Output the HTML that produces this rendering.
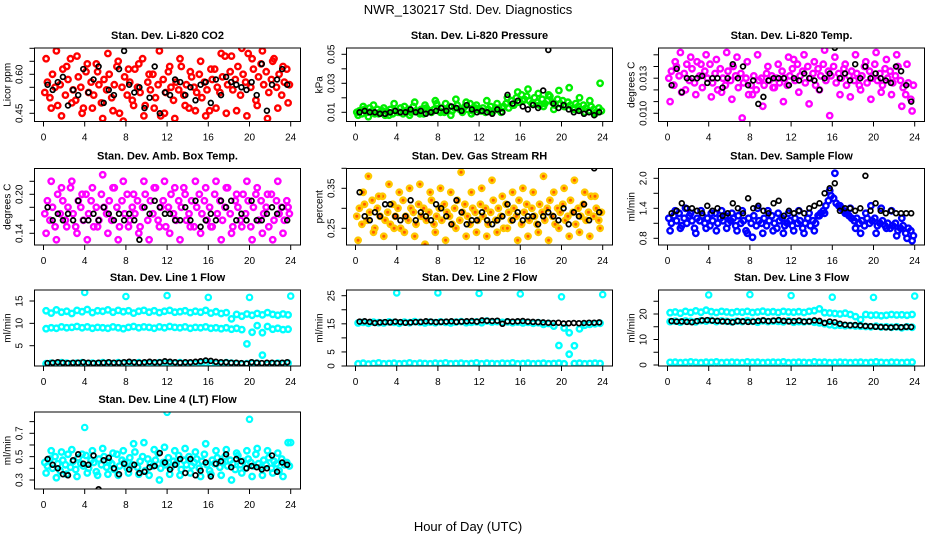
<!DOCTYPE html>
<html><head><meta charset="utf-8"><style>
html,body{margin:0;padding:0;background:#fff;}
svg{display:block;font-family:"Liberation Sans",Arial,sans-serif;}
</style></head><body>
<svg id="chart" width="936" height="540" viewBox="0 0 936 540" xmlns="http://www.w3.org/2000/svg">
<text x="468" y="14" text-anchor="middle" font-size="13">NWR_130217  Std. Dev. Diagnostics</text>
<text x="468" y="531" text-anchor="middle" font-size="13">Hour of Day (UTC)</text>
</svg>
<script>
// ---- data ----
const co2Main=[0.53,0.57,0.51,0.60,0.55,0.48,0.56,0.62,0.52,0.58,0.66,0.54,0.50,0.59,0.55,0.47,0.61,0.53,0.57,0.52,0.64,0.56,0.49,0.58,0.54,0.60,0.51,0.56,0.63,0.45,0.55,0.59,0.52,0.57,0.50,0.62,0.55,0.53,0.66,0.48,0.57,0.54,0.60,0.51,0.56,0.44,0.58,0.53,0.61,0.55,0.50,0.57,0.54,0.63,0.52,0.56,0.47,0.59,0.55,0.53,0.60,0.51,0.57,0.54,0.46,0.58,0.62,0.55,0.53,0.59,0.67,0.56,0.61,0.54,0.58,0.63,0.52,0.60,0.57,0.68,0.55,0.62,0.50,0.59,0.64,0.56,0.61,0.53,0.58,0.66,0.55,0.60,0.52,0.57,0.62,0.56];
const co2Spread=[0.66,0.47,0.69,0.44,0.63,0.49,0.67,0.45,0.64,0.47,0.61,0.43,0.68,0.46,0.65,0.42,0.62,0.48,0.64,0.44,0.60,0.47,0.69,0.45,0.63,0.43,0.66,0.48,0.61,0.46,0.65,0.44,0.62,0.47,0.68,0.45,0.67,0.46,0.70,0.44,0.66,0.48,0.69,0.43,0.65,0.47,0.63,0.49];
const co2Black=[0.56,0.54,0.57,0.59,0.48,0.54,0.52,0.62,0.53,0.58,0.63,0.49,0.54,0.52,0.62,0.69,0.56,0.53,0.55,0.47,0.51,0.63,0.45,0.53,0.52,0.58,0.57,0.52,0.55,0.50,0.56,0.57,0.49,0.58,0.52,0.59,0.57,0.56,0.55,0.54,0.57,0.52,0.64,0.46,0.56,0.58,0.62,0.56];

const presMain=[0.010,0.011,0.009,0.012,0.010,0.013,0.011,0.009,0.012,0.010,0.011,0.008,0.010,0.012,0.009,0.011,0.010,0.013,0.009,0.011,0.012,0.010,0.014,0.011,0.010,0.012,0.009,0.013,0.011,0.010,0.012,0.016,0.011,0.013,0.010,0.012,0.014,0.011,0.013,0.015,0.012,0.010,0.014,0.012,0.016,0.011,0.013,0.012,0.011,0.013,0.010,0.012,0.014,0.011,0.013,0.012,0.010,0.014,0.016,0.013,0.018,0.015,0.020,0.017,0.022,0.019,0.021,0.018,0.016,0.020,0.017,0.015,0.019,0.016,0.018,0.021,0.017,0.015,0.019,0.016,0.018,0.014,0.017,0.015,0.013,0.016,0.014,0.012,0.015,0.013,0.011,0.014,0.012,0.010,0.013,0.011];
const presSpread=[0.008,0.014,0.007,0.015,0.009,0.013,0.008,0.016,0.010,0.014,0.008,0.017,0.009,0.015,0.011,0.018,0.010,0.016,0.008,0.019,0.012,0.017,0.009,0.015,0.011,0.018,0.010,0.016,0.013,0.020,0.015,0.024,0.018,0.026,0.016,0.023,0.014,0.022,0.012,0.025,0.014,0.027,0.012,0.020,0.010,0.018,0.009,0.030];
const presBlack=[0.010,0.011,0.010,0.010,0.009,0.009,0.010,0.011,0.010,0.010,0.012,0.010,0.011,0.009,0.010,0.011,0.013,0.011,0.014,0.013,0.011,0.015,0.012,0.010,0.011,0.010,0.009,0.012,0.010,0.022,0.016,0.018,0.014,0.012,0.015,0.013,0.025,0.053,0.016,0.013,0.015,0.012,0.010,0.011,0.009,0.010,0.008,0.010];

const ltMain=[0.0115,0.0118,0.0112,0.0120,0.0116,0.0109,0.0117,0.0121,0.0114,0.0119,0.0113,0.0122,0.0116,0.0111,0.0118,0.0115,0.0121,0.0113,0.0117,0.0110,0.0119,0.0115,0.0112,0.0118,0.0114,0.0120,0.0116,0.0111,0.0117,0.0113,0.0115,0.0108,0.0112,0.0116,0.0110,0.0114,0.0115,0.0112,0.0117,0.0114,0.0116,0.0111,0.0115,0.0113,0.0118,0.0115,0.0112,0.0116,0.0119,0.0114,0.0121,0.0116,0.0118,0.0113,0.0120,0.0115,0.0117,0.0112,0.0119,0.0116,0.0121,0.0114,0.0118,0.0116,0.0120,0.0113,0.0117,0.0115,0.0119,0.0112,0.0116,0.0118,0.0114,0.0117,0.0112,0.0116,0.0120,0.0113,0.0118,0.0115,0.0121,0.0114,0.0117,0.0112,0.0119,0.0115,0.0118,0.0113,0.0116,0.0120,0.0114,0.0111,0.0108,0.0113,0.0106,0.0112];
const ltSpread=[0.0105,0.0122,0.0126,0.0110,0.0124,0.0108,0.0121,0.0125,0.0107,0.0123,0.0109,0.0126,0.0106,0.0124,0.0098,0.0122,0.0108,0.0125,0.0103,0.0120,0.0111,0.0121,0.0105,0.0124,0.0123,0.0109,0.0125,0.0104,0.0122,0.0110,0.0127,0.0099,0.0124,0.0108,0.0121,0.0107,0.0125,0.0110,0.0122,0.0106,0.0126,0.0109,0.0123,0.0108,0.0125,0.0103,0.0121,0.0101];
const ltBlack=[0.0112,0.0119,0.0109,0.0115,0.0115,0.0115,0.0116,0.0113,0.0115,0.0115,0.0111,0.0115,0.0121,0.0115,0.0120,0.0112,0.0114,0.0104,0.0107,0.0114,0.0115,0.0115,0.0115,0.0112,0.0115,0.0114,0.0117,0.0115,0.0114,0.0110,0.0115,0.0117,0.0128,0.0115,0.0117,0.0114,0.0121,0.0115,0.0120,0.0115,0.0117,0.0115,0.0114,0.0113,0.0120,0.0118,0.0112,0.0105];

const abMain=[0.17,0.19,0.16,0.18,0.15,0.20,0.17,0.19,0.16,0.18,0.21,0.17,0.15,0.19,0.18,0.16,0.20,0.17,0.19,0.15,0.18,0.16,0.20,0.18,0.17,0.19,0.16,0.21,0.18,0.15,0.19,0.17,0.20,0.16,0.18,0.17,0.19,0.15,0.18,0.20,0.16,0.19,0.17,0.21,0.16,0.18,0.19,0.15,0.18,0.20,0.17,0.16,0.19,0.18,0.21,0.16,0.17,0.19,0.15,0.18,0.20,0.17,0.19,0.16,0.18,0.15,0.20,0.17,0.19,0.16,0.18,0.21,0.17,0.15,0.19,0.18,0.16,0.20,0.17,0.19,0.15,0.18,0.20,0.16,0.19,0.17,0.18,0.15,0.20,0.16,0.19,0.17,0.18,0.16,0.19,0.17];
const abSpread=[0.14,0.22,0.13,0.21,0.15,0.22,0.14,0.20,0.13,0.21,0.15,0.23,0.14,0.21,0.13,0.22,0.15,0.20,0.14,0.22,0.13,0.21,0.15,0.22,0.14,0.21,0.13,0.20,0.15,0.22,0.14,0.21,0.15,0.22,0.13,0.21,0.14,0.20,0.15,0.22,0.13,0.21,0.14,0.20,0.13,0.22,0.14,0.18];
const abBlack=[0.18,0.16,0.17,0.16,0.17,0.16,0.19,0.16,0.16,0.17,0.16,0.18,0.17,0.16,0.17,0.16,0.17,0.16,0.13,0.18,0.17,0.19,0.18,0.17,0.17,0.16,0.16,0.18,0.16,0.19,0.15,0.16,0.17,0.16,0.19,0.18,0.19,0.16,0.17,0.16,0.19,0.16,0.16,0.17,0.18,0.17,0.18,0.16];

const rhMain=[0.28,0.30,0.26,0.31,0.27,0.29,0.32,0.25,0.30,0.28,0.33,0.27,0.29,0.26,0.31,0.28,0.30,0.25,0.32,0.28,0.27,0.30,0.29,0.26,0.31,0.28,0.30,0.27,0.29,0.32,0.26,0.28,0.30,0.27,0.31,0.29,0.28,0.26,0.30,0.32,0.27,0.29,0.31,0.28,0.26,0.30,0.29,0.27,0.31,0.28,0.30,0.26,0.29,0.32,0.27,0.30,0.28,0.25,0.31,0.29,0.27,0.30,0.28,0.32,0.26,0.29,0.31,0.27,0.30,0.28,0.26,0.31,0.29,0.27,0.30,0.32,0.28,0.26,0.30,0.29,0.31,0.27,0.28,0.32,0.29,0.26,0.30,0.28,0.31,0.27,0.29,0.33,0.28,0.30,0.27,0.29];
const rhSpread=[0.22,0.34,0.38,0.24,0.33,0.23,0.36,0.25,0.34,0.24,0.35,0.23,0.36,0.21,0.34,0.24,0.35,0.22,0.34,0.25,0.39,0.23,0.34,0.24,0.35,0.23,0.37,0.24,0.33,0.25,0.34,0.22,0.35,0.23,0.34,0.24,0.38,0.22,0.34,0.25,0.35,0.23,0.37,0.24,0.34,0.23,0.33,0.25];
const rhBlack=[0.34,0.28,0.27,0.29,0.28,0.31,0.31,0.28,0.27,0.28,0.32,0.27,0.29,0.28,0.27,0.31,0.30,0.28,0.26,0.32,0.29,0.26,0.27,0.27,0.29,0.27,0.26,0.27,0.28,0.31,0.27,0.29,0.27,0.28,0.28,0.26,0.28,0.29,0.28,0.27,0.30,0.26,0.29,0.28,0.31,0.27,0.40,0.29];

const sfMain=[1.2,1.1,1.25,1.15,1.3,1.05,1.2,1.1,1.25,1.15,1.0,1.2,1.15,1.25,1.1,1.2,1.05,1.15,1.3,1.1,1.2,1.15,1.25,1.1,1.15,1.2,1.05,1.25,1.1,1.15,0.95,1.2,1.1,1.25,1.05,1.15,1.1,1.2,1.05,1.15,1.25,1.1,1.0,1.15,1.2,1.05,1.1,1.15,1.05,1.2,1.1,1.15,1.0,1.1,1.2,1.05,1.15,1.1,1.25,1.3,1.35,1.45,1.55,1.65,1.6,1.5,1.45,1.4,1.35,1.3,1.25,1.2,1.15,1.2,1.1,1.15,1.05,1.2,1.1,1.15,1.2,1.05,1.1,1.15,1.05,1.1,1.0,1.05,1.1,0.95,1.0,1.05,0.9,1.0,0.95,0.85];
const sfSpread=[0.95,1.35,1.0,1.4,1.3,0.9,1.35,1.0,1.3,0.95,1.35,1.0,1.3,0.95,1.35,0.9,0.82,1.4,0.9,1.35,0.95,1.3,0.9,1.3,0.95,1.35,0.9,1.3,0.95,1.25,1.3,1.75,2.1,1.45,1.3,1.4,1.0,0.9,1.3,1.45,0.9,1.4,1.0,1.35,0.85,1.2,0.8,0.75];
const sfBlack=[1.3,1.35,1.5,1.4,1.4,1.35,1.3,1.45,1.35,1.4,1.25,1.3,1.5,1.4,1.3,1.6,1.4,1.45,1.35,1.3,1.5,1.55,1.25,1.35,1.3,1.35,1.3,1.4,1.45,1.5,1.7,1.8,1.9,1.35,1.4,1.4,1.35,1.4,2.05,1.35,1.5,1.35,1.3,1.35,1.3,1.3,1.3,1.3];

const l1BandHigh=[12.8,12.3,13.0,12.5,12.7,12.2,12.9,12.6,13.1,12.4,12.8,12.7,13.0,12.5,12.9,12.6,12.8,12.3,12.7,12.9,12.5,12.8,12.4,12.7,12.9,12.5,12.6,12.8,12.4,12.7,12.5,12.9,12.3,12.6,12.2,12.4,11.0,12.0,11.6,12.1,11.8,12.2,11.9,12.4,12.0,11.8,12.1,11.9];
const l1BandMid=[8.8,9.0,8.9,9.2,9.0,9.1,9.3,9.0,9.2,8.9,9.1,9.0,8.9,9.2,9.0,8.8,9.1,9.3,9.0,9.2,9.1,8.9,9.2,9.0,9.3,9.1,9.0,9.2,8.9,9.1,9.0,9.2,8.9,9.0,8.8,9.0,8.7,8.9,8.6,5.4,8.0,9.5,7.9,9.3,8.7,8.9,8.6,8.7];
const l1BandLow=[1.0,1.1,1.0,1.2,1.1,1.0,1.1,1.2,1.0,1.1,1.0,1.2,1.1,1.0,1.2,1.1,1.0,1.1,1.2,1.0,1.1,1.0,1.2,1.1,1.0,1.1,1.2,1.0,1.1,1.0,1.2,1.1,1.0,1.1,1.0,1.2,1.1,1.0,0.9,1.0,1.1,1.1,2.9,0.9,1.0,1.1,1.0,1.1];
const l1OutHours=[4,8,12,16,20,24];
const l1OutVals=[16.9,16.0,16.2,15.8,15.8,16.1];
const l1Black=[1.1,1.2,1.3,1.2,1.1,1.2,1.2,1.3,1.2,1.1,1.2,1.2,1.3,1.2,1.2,1.3,1.4,1.3,1.2,1.3,1.4,1.3,1.3,1.5,1.4,1.3,1.2,1.3,1.3,1.4,1.5,1.7,1.6,1.4,1.3,1.3,1.2,1.2,1.1,1.0,1.3,1.2,1.1,1.2,1.2,1.1,1.2,1.3];

const l2BandHigh=[15.3,15.5,15.2,15.6,15.4,15.3,15.7,15.5,15.2,15.6,15.4,15.8,15.5,15.3,15.6,15.4,15.7,15.5,15.3,15.6,15.8,15.4,15.5,15.7,15.4,16.0,15.6,15.8,15.5,15.7,15.4,15.6,15.3,15.5,15.2,15.4,14.8,15.1,14.2,7.3,13.5,11.8,7.2,13.2,14.5,14.8,15.0,15.2];
const l2BandLow=[0.8,1.0,0.7,0.9,1.1,0.8,0.9,1.0,0.8,0.9,1.1,0.8,1.0,0.9,0.8,1.0,0.9,1.1,0.8,0.9,1.0,0.8,0.9,1.1,0.8,1.0,0.9,0.8,1.0,0.9,1.1,0.8,0.9,1.0,0.8,0.9,1.0,0.8,0.9,1.0,0.8,4.2,0.9,1.0,0.8,0.9,1.0,0.9];
const l2OutHours=[4,8,12,16,20,24];
const l2OutVals=[26.0,26.0,25.8,25.6,24.6,25.4];
const l2Black=[15.8,15.9,15.7,15.3,15.5,15.6,15.5,15.8,15.6,15.4,15.5,15.6,15.7,15.9,15.8,15.6,15.7,15.8,15.9,15.7,15.8,15.9,16.0,15.8,16.2,16.1,16.0,16.1,15.0,15.9,15.8,15.9,16.0,15.8,15.7,15.6,15.5,15.4,15.3,15.4,15.1,15.2,15.3,15.2,15.3,15.4,15.4,15.5];

const l3BandHigh=[20.5,20.8,20.3,21.0,20.6,21.2,20.7,21.5,20.9,20.6,21.0,20.8,20.5,20.9,20.7,21.0,20.6,20.8,21.1,20.7,20.9,20.6,21.0,20.8,20.7,20.9,20.6,21.0,21.3,22.0,20.5,20.4,20.2,20.0,20.3,19.8,19.0,17.8,19.8,19.5,19.6,19.3,19.5,19.8,19.6,19.7,19.5,19.8];
const l3BandMid=[17.0,17.2,16.8,17.3,17.1,16.9,17.4,17.2,17.5,17.0,17.3,17.1,16.9,17.2,17.0,17.4,17.1,16.8,17.3,17.0,17.2,17.1,16.9,17.3,16.8,17.0,16.9,17.1,16.8,16.5,16.2,15.8,15.5,15.6,15.4,15.5,15.3,15.2,15.1,15.0,15.2,14.9,15.0,14.8,15.0,14.6,15.0,14.8];
const l3BandLow=[1.0,1.1,0.9,1.0,1.2,1.0,0.9,1.1,1.0,1.2,0.9,1.0,1.1,1.0,0.9,1.2,1.0,1.1,0.9,1.0,1.1,1.0,1.2,0.9,1.0,1.1,1.0,0.9,1.2,1.0,1.1,0.9,1.0,1.1,1.0,0.9,1.0,1.1,0.9,1.0,1.2,1.0,0.9,1.1,1.0,0.9,1.0,1.1];
const l3OutHours=[4,8,12,16,20,24];
const l3OutVals=[27.5,27.6,27.2,26.6,26.5,27.0];
const l3Black=[17.2,17.0,17.1,16.9,16.8,17.2,17.5,17.6,17.4,17.3,17.1,17.0,16.8,17.2,17.1,16.9,17.0,17.3,17.5,17.2,17.4,17.6,17.3,17.1,17.2,17.4,17.0,17.1,17.5,17.3,16.5,17.0,16.8,16.2,15.8,15.6,15.7,15.5,15.3,15.2,15.0,14.9,14.8,14.7,14.9,14.8,15.0,14.9];

const l4Main=[0.45,0.42,0.48,0.40,0.50,0.44,0.38,0.47,0.43,0.52,0.41,0.46,0.39,0.49,0.44,0.42,0.51,0.40,0.47,0.45,0.37,0.48,0.43,0.50,0.41,0.46,0.44,0.39,0.52,0.42,0.47,0.45,0.40,0.49,0.43,0.54,0.41,0.46,0.50,0.38,0.48,0.44,0.42,0.47,0.53,0.40,0.45,0.43,0.49,0.41,0.46,0.44,0.51,0.39,0.47,0.43,0.50,0.42,0.45,0.48,0.40,0.46,0.52,0.43,0.38,0.47,0.44,0.49,0.41,0.45,0.50,0.42,0.47,0.44,0.39,0.51,0.43,0.46,0.40,0.48,0.45,0.42,0.52,0.44,0.41,0.47,0.43,0.49,0.40,0.46,0.44,0.38,0.48,0.43,0.45,0.42];
const l4Spread=[0.36,0.55,0.32,0.54,0.35,0.56,0.33,0.52,0.36,0.55,0.34,0.57,0.35,0.53,0.34,0.55,0.36,0.61,0.35,0.62,0.34,0.56,0.30,0.58,0.35,0.55,0.34,0.57,0.36,0.54,0.33,0.61,0.35,0.55,0.34,0.56,0.30,0.53,0.36,0.55,0.33,0.57,0.34,0.55,0.36,0.53,0.33,0.62];
const l4OutHours=[4,12,20,24];
const l4OutVals=[0.75,0.88,0.82,0.62];
const l4Black=[0.48,0.43,0.40,0.35,0.34,0.47,0.52,0.44,0.43,0.51,0.22,0.47,0.49,0.40,0.35,0.44,0.39,0.43,0.36,0.37,0.41,0.42,0.53,0.45,0.39,0.43,0.48,0.36,0.48,0.34,0.38,0.45,0.33,0.44,0.46,0.52,0.41,0.48,0.46,0.40,0.42,0.41,0.39,0.40,0.51,0.37,0.45,0.43];

const xTicks=[0,4,8,12,16,20,24];

// ---- layout ----
const NS='http://www.w3.org/2000/svg';
const svg=document.getElementById('chart');
const colLeft=[34.5,346.5,658.5], W=266;
const rowTop=[48,168.5,290,412], rowBot=[121.5,245,366,489];
function mk(tag,attrs,parent){const e=document.createElementNS(NS,tag);for(const k in attrs)e.setAttribute(k,attrs[k]);(parent||svg).appendChild(e);return e;}

const panels=[
 {t:'Stan. Dev. Li-820 CO2',c:0,r:0,yl:'Licor ppm',ref:[0.60,74.3,0.45,113.3],ticks:[0.45,0.50,0.55,0.60,0.65,0.70],labs:[['0.45',0.45],['0.60',0.60]],col:'#ff0000',fill:'none',series:[co2Main,co2Spread],black:co2Black},
 {t:'Stan. Dev. Li-820 Pressure',c:1,r:0,yl:'kPa',ref:[0.05,54.3,0.01,112.3],ticks:[0.01,0.02,0.03,0.04,0.05],labs:[['0.01',0.01],['0.03',0.03],['0.05',0.05]],col:'#00ee00',fill:'none',series:[presMain,presSpread],black:presBlack},
 {t:'Stan. Dev. Li-820 Temp.',c:2,r:0,yl:'degrees C',ref:[0.0100,113.3,0.0125,54.8],ticks:[0.0100,0.0105,0.0110,0.0115,0.0120,0.0125],labs:[['0.010',0.0100],['0.013',0.0115]],col:'#ff00ff',fill:'none',series:[ltMain,ltSpread],black:ltBlack},
 {t:'Stan. Dev. Amb. Box Temp.',c:0,r:1,yl:'degrees C',ref:[0.20,194.3,0.14,233.3],ticks:[0.14,0.16,0.18,0.20,0.22],labs:[['0.14',0.14],['0.20',0.20]],col:'#ff00ff',fill:'none',series:[abMain,abSpread],black:abBlack},
 {t:'Stan. Dev. Gas Stream RH',c:1,r:1,yl:'percent',ref:[0.35,188.3,0.25,228.3],ticks:[0.25,0.30,0.35,0.40],labs:[['0.25',0.25],['0.35',0.35]],col:'#ffc800',fill:'#ff5a00',series:[rhMain,rhSpread],black:rhBlack},
 {t:'Stan. Dev. Sample Flow',c:2,r:1,yl:'ml/min',ref:[2.0,178.3,0.8,238.3],ticks:[0.8,1.1,1.4,1.7,2.0],labs:[['0.8',0.8],['1.4',1.4],['2.0',2.0]],col:'#0000ff',fill:'none',series:[sfMain,sfSpread],black:sfBlack},
 {t:'Stan. Dev. Line 1 Flow',c:0,r:2,yl:'ml/min',ref:[15,301,5,345.7],ticks:[5,10,15],labs:[['5',5],['10',10],['15',15]],col:'#00ffff',fill:'none',series:[l1BandHigh,l1BandMid,l1BandLow],out:[l1OutHours,l1OutVals],black:l1Black},
 {t:'Stan. Dev. Line 2 Flow',c:1,r:2,yl:'ml/min',ref:[25,295.7,0,366],ticks:[0,5,10,15,20,25],labs:[['0',0],['5',5],['15',15],['25',25]],col:'#00ffff',fill:'none',series:[l2BandHigh,l2BandLow],out:[l2OutHours,l2OutVals],black:l2Black},
 {t:'Stan. Dev. Line 3 Flow',c:2,r:2,yl:'ml/min',ref:[20,314,0,365],ticks:[0,5,10,15,20,25],labs:[['0',0],['10',10],['20',20]],col:'#00ffff',fill:'none',series:[l3BandHigh,l3BandMid,l3BandLow],out:[l3OutHours,l3OutVals],black:l3Black},
 {t:'Stan. Dev. Line 4 (LT) Flow',c:0,r:3,yl:'ml/min',ref:[0.7,433.3,0.3,480],ticks:[0.3,0.4,0.5,0.6,0.7,0.8],labs:[['0.3',0.3],['0.5',0.5],['0.7',0.7]],col:'#00ffff',fill:'none',series:[l4Main,l4Spread],out:[l4OutHours,l4OutVals],black:l4Black}
];

panels.forEach((p,pi)=>{
  const L=colLeft[p.c], T=rowTop[p.r], B=rowBot[p.r];
  const g=mk('g',{});
  
  
  const xs=h=>L+9+h*10.3;
  const k=(p.ref[1]-p.ref[3])/(p.ref[0]-p.ref[2]);
  const ys=v=>p.ref[1]+(v-p.ref[0])*k;
  const ttl=mk('text',{x:L+W/2,y:T-9,'text-anchor':'middle','font-size':'11','font-weight':'bold'},g);
  ttl.textContent=p.t;
  
  
  const yt=mk('text',{transform:`translate(${L-24},${(T+B)/2}) rotate(-90)`,'text-anchor':'middle','font-size':'10'},g);
  yt.textContent=p.yl;
  
  
  const cp=mk('clipPath',{id:'clip'+pi},g);
  mk('rect',{x:L,y:T,width:W,height:B-T},cp);
  const pg=mk('g',{'clip-path':`url(#clip${pi})`},g);
  const dot=(h,v,stroke,fill,r,sw)=>{
    const c=mk('circle',{cx:xs(h).toFixed(1),cy:ys(v).toFixed(1),r:r,fill:fill,stroke:stroke,'stroke-width':sw},pg);
    
    
  };
  p.series.forEach(arr=>{
    const n=arr.length;
    arr.forEach((v,i)=>dot((i+0.5)*24/n,v,p.col,p.fill,2.7,2.4));
  });
  if(p.out){p.out[0].forEach((h,i)=>dot(h,p.out[1][i],p.col,p.fill,2.7,2.2));}
  p.black.forEach((v,i)=>dot(0.4+i*0.495,v,'#000','none',2.4,1.7));
  const box=mk('rect',{x:L,y:T,width:W,height:B-T,fill:'none',stroke:'#000','stroke-width':1},g);
  
  
  mk('line',{x1:xs(0),x2:xs(24),y1:B,y2:B,stroke:'#000'},g);
  xTicks.forEach(h=>{
    mk('line',{x1:xs(h),x2:xs(h),y1:B,y2:B+5,stroke:'#000'},g);
    const t=mk('text',{x:xs(h),y:B+19,'text-anchor':'middle','font-size':'10'},g);
    t.textContent=h;
    
    
  });
  mk('line',{x1:L,x2:L,y1:ys(p.ticks[0]),y2:ys(p.ticks[p.ticks.length-1]),stroke:'#000'},g);
  p.ticks.forEach(v=>{mk('line',{x1:L-5,x2:L,y1:ys(v),y2:ys(v),stroke:'#000'},g);});
  p.labs.forEach(([s,v])=>{
    const t=mk('text',{transform:`translate(${L-12},${ys(v)}) rotate(-90)`,'text-anchor':'middle','font-size':'10'},g);
    t.textContent=s;
    
    
  });
});
</script>
</body></html>
